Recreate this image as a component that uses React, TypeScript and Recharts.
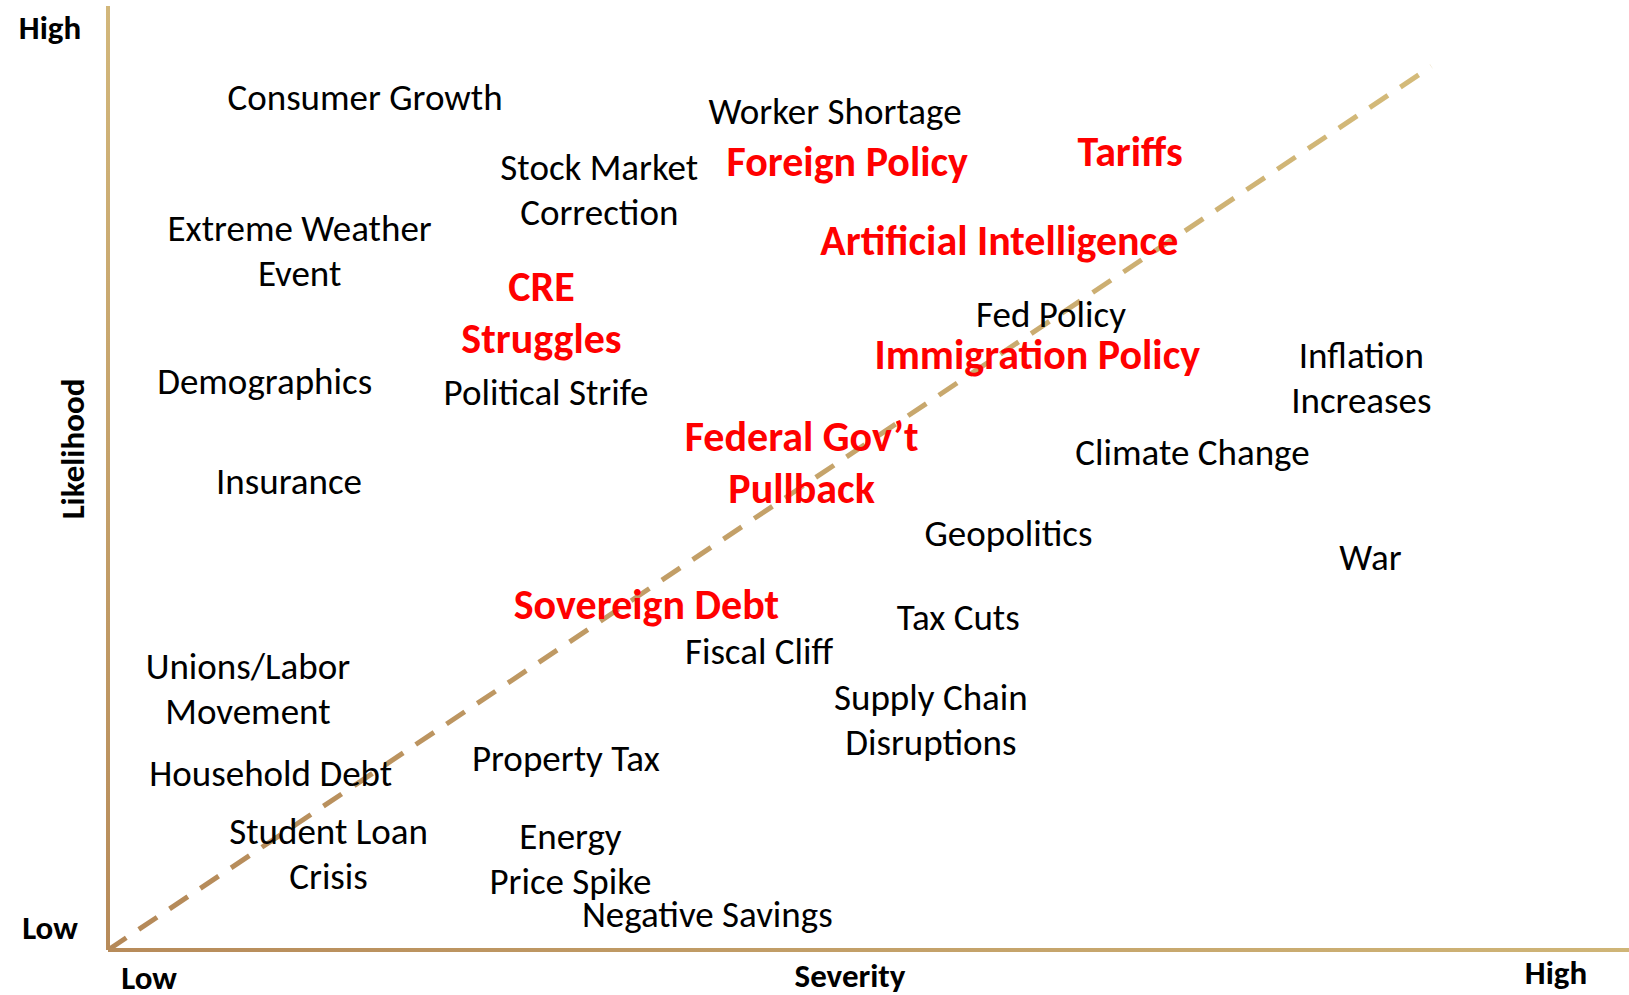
import React from 'react';
import { ScatterChart, Scatter, XAxis, YAxis, ReferenceLine, Label } from 'recharts';

// severity (x) and likelihood (y), both on a 0-100 scale
const otherRisks = [
    { name: 'Consumer Growth', severity: 16.9, likelihood: 90.4 },
    { name: 'Worker Shortage', severity: 47.8, likelihood: 88.9 },
    { name: 'Stock Market\nCorrection', severity: 32.3, likelihood: 80.6 },
    { name: 'Extreme Weather\nEvent', severity: 12.6, likelihood: 74.1 },
    { name: 'Fed Policy', severity: 62.0, likelihood: 67.4 },
    { name: 'Inflation\nIncreases', severity: 82.4, likelihood: 60.6 },
    { name: 'Demographics', severity: 10.3, likelihood: 60.3 },
    { name: 'Political Strife', severity: 28.8, likelihood: 59.1 },
    { name: 'Climate Change', severity: 71.3, likelihood: 52.8 },
    { name: 'Insurance', severity: 11.9, likelihood: 49.7 },
    { name: 'Geopolitics', severity: 59.2, likelihood: 44.2 },
    { name: 'War', severity: 83.0, likelihood: 41.6 },
    { name: 'Tax Cuts', severity: 55.9, likelihood: 35.3 },
    { name: 'Fiscal Cliff', severity: 42.8, likelihood: 31.7 },
    { name: 'Unions/Labor\nMovement', severity: 9.2, likelihood: 27.7 },
    { name: 'Supply Chain\nDisruptions', severity: 54.1, likelihood: 24.4 },
    { name: 'Household Debt', severity: 10.7, likelihood: 18.8 },
    { name: 'Property Tax', severity: 30.1, likelihood: 20.3 },
    { name: 'Student Loan\nCrisis', severity: 14.5, likelihood: 10.2 },
    { name: 'Energy\nPrice Spike', severity: 30.4, likelihood: 9.7 },
    { name: 'Negative Savings', severity: 39.4, likelihood: 3.8 },
];

// the highlighted ones
const keyRisks = [
    { name: 'Foreign Policy', severity: 48.6, likelihood: 83.6 },
    { name: 'Tariffs', severity: 67.2, likelihood: 84.6 },
    { name: 'Artificial Intelligence', severity: 58.6, likelihood: 75.2 },
    { name: 'CRE\nStruggles', severity: 28.5, likelihood: 67.6 },
    { name: 'Immigration Policy', severity: 61.1, likelihood: 63.1 },
    { name: 'Federal Gov\u2019t\nPullback', severity: 45.6, likelihood: 51.7 },
    { name: 'Sovereign Debt', severity: 35.4, likelihood: 36.6 },
];

const xTicks = [2.7, 95.2];
const yTicks = [2.3, 97.7];
const trendEnd = { x: 87, y: 93.6 };

const FONT = 'Carlito, Calibri, Lato, sans-serif';

const RiskLabel = ({ cx, cy, payload, color, bold, lineHeight, fontSize }: any) => {
    const lines: string[] = payload.name.split('\n');
    const top = cy - ((lines.length - 1) * lineHeight) / 2;
    return (
        <text
            x={cx}
            y={top}
            fill={color}
            fontFamily={FONT}
            fontSize={fontSize}
            fontWeight={bold ? 700 : 400}
            textAnchor="middle"
            dominantBaseline="central"
        >
            {lines.map((l, i) => (
                <tspan key={i} x={cx} y={top + i * lineHeight}>{l}</tspan>
            ))}
        </text>
    );
};

// the x axis rises a little to the right, so the end labels sit at slightly different heights
const XTick = ({ x, payload }: any) => (
    <text x={x} y={payload.value < 50 ? 978 : 973} textAnchor="middle" dominantBaseline="central"
        fontFamily={FONT} fontWeight={700} fontSize={33} fill="#000">
        {payload.value < 50 ? 'Low' : 'High'}
    </text>
);

const YTick = ({ y, payload }: any) => (
    <text x={50} y={y} textAnchor="middle" dominantBaseline="central"
        fontFamily={FONT} fontWeight={700} fontSize={33} fill="#000">
        {payload.value < 50 ? 'Low' : 'High'}
    </text>
);

const App = () => {
    return (
        <div style={{ position: 'absolute', left: 0, top: 0, background: '#fff' }}>
            <ScatterChart width={1629} height={995} margin={{ top: 6, right: 0, bottom: 0, left: 0 }}>
                <defs>
                    <linearGradient id="gradX" gradientUnits="userSpaceOnUse" x1={108} y1={950} x2={1629} y2={950}>
                        <stop offset="0%" stopColor="#B78B5A" />
                        <stop offset="100%" stopColor="#CFB577" />
                    </linearGradient>
                    <linearGradient id="gradY" gradientUnits="userSpaceOnUse" x1={108} y1={950} x2={108} y2={6}>
                        <stop offset="0%" stopColor="#B78B5A" />
                        <stop offset="100%" stopColor="#D2B77B" />
                    </linearGradient>
                    <linearGradient id="gradDiag" gradientUnits="userSpaceOnUse" x1={108} y1={950} x2={1431} y2={66}>
                        <stop offset="0%" stopColor="#B48858" />
                        <stop offset="100%" stopColor="#D4BB7A" />
                    </linearGradient>
                </defs>
                <XAxis
                    type="number"
                    dataKey="severity"
                    domain={[0, 100]}
                    allowDataOverflow
                    ticks={xTicks}
                    tick={<XTick />}
                    tickLine={false}
                    height={45}
                    axisLine={{ stroke: 'url(#gradX)', strokeWidth: 4 }}
                >
                    <Label
                        content={({ viewBox }: any) => (
                            <text x={850} y={viewBox.y + 26} textAnchor="middle" dominantBaseline="central"
                                fontFamily={FONT} fontWeight={700} fontSize={33} fill="#000">
                                Severity
                            </text>
                        )}
                    />
                </XAxis>
                <YAxis
                    type="number"
                    dataKey="likelihood"
                    domain={[0, 100]}
                    allowDataOverflow
                    ticks={yTicks}
                    tick={<YTick />}
                    tickLine={false}
                    width={108}
                    axisLine={{ stroke: 'url(#gradY)', strokeWidth: 4 }}
                >
                    <Label
                        content={({ viewBox }: any) => {
                            const lx = 73;
                            const ly = viewBox.y + viewBox.height / 2 - 29;
                            return (
                                <text x={lx} y={ly} transform={`rotate(-90 ${lx} ${ly})`}
                                    textAnchor="middle" dominantBaseline="central"
                                    fontFamily={FONT} fontWeight={700} fontSize={33} fill="#000">
                                    Likelihood
                                </text>
                            );
                        }}
                    />
                </YAxis>
                <ReferenceLine
                    segment={[{ x: 0, y: 0 }, trendEnd]}
                    stroke="url(#gradDiag)"
                    strokeWidth={5}
                    strokeDasharray="22 15"
                />
                <Scatter
                    data={otherRisks}
                    isAnimationActive={false}
                    shape={(p: any) => <RiskLabel {...p} color="#000" bold={false} fontSize={37} lineHeight={45} />}
                />
                <Scatter
                    data={keyRisks}
                    isAnimationActive={false}
                    shape={(p: any) => <RiskLabel {...p} color="#FF0000" bold fontSize={42} lineHeight={52} />}
                />
            </ScatterChart>
        </div>
    );
};

export default App;
